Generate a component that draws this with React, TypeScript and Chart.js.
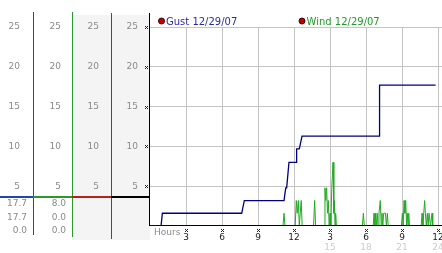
import React, { useEffect, useRef } from "react";
import { Chart, registerables } from "chart.js";

Chart.register(...registerables);

const gustLabel = "Gust 12/29/07";
const windLabel = "Wind 12/29/07";

// Gust (step-like), hours since midnight -> speed
const gustHours = [0, 0.92, 1.03, 7.64, 7.86, 11.17, 11.31, 11.39, 11.58, 12.17, 12.22, 12.44, 12.67, 19.1, 19.13, 23.8];
const gustValues = [0, 0, 1.6, 1.6, 3.2, 3.2, 4.8, 4.8, 8.0, 8.0, 9.7, 9.7, 11.3, 11.3, 17.7, 17.7];

// Wind (spiky)
const windHours = [
  0, 11.08, 11.17, 11.25,
  12.1, 12.19, 12.27, 12.36, 12.44, 12.52, 12.6, 12.68,
  13.63, 13.72, 13.8,
  14.5, 14.58, 14.65, 14.72, 14.79, 14.86, 14.93, 15.0, 15.07, 15.15, 15.25, 15.32, 15.36, 15.42, 15.47, 15.53,
  17.7, 17.78, 17.86,
  18.6, 18.67, 18.74, 18.81, 18.87, 18.94, 19.0, 19.08, 19.19, 19.27, 19.33, 19.4, 19.47, 19.62, 19.7, 19.78, 19.85,
  20.95, 21.03, 21.1, 21.17, 21.24, 21.31, 21.38, 21.44, 21.5, 21.56, 21.62,
  22.6, 22.67, 22.74, 22.81, 22.89, 22.95, 23.03, 23.11, 23.18, 23.25, 23.31, 23.38, 23.5, 23.56, 24,
];
const windValues = [
  0, 0, 1.6, 0,
  0, 3.2, 1.6, 3.2, 0, 1.6, 3.2, 0,
  0, 3.2, 0,
  0, 4.8, 3.2, 4.8, 1.6, 3.2, 0, 1.6, 0, 4.8, 8.0, 1.6, 3.2, 0, 1.6, 0,
  0, 1.6, 0,
  0, 1.6, 0, 1.6, 0, 1.6, 0, 1.6, 3.2, 0, 1.6, 0, 1.6, 1.6, 0, 1.6, 0,
  0, 1.6, 0, 3.2, 1.6, 3.2, 0, 1.6, 0, 1.6, 0,
  0, 1.6, 0, 1.6, 3.2, 1.6, 0, 1.6, 0, 1.6, 1.6, 0, 1.6, 0, 0,
];

const hourTicks = [3, 6, 9, 12, 15, 18, 21, 24];
const clockLabels = ["3", "6", "9", "12", "3", "6", "9", "12"];
const dayLabels = ["", "", "", "", "15", "18", "21", "24"];
const speedTicks = [5, 10, 15, 20, 25];

const FONT = "'DejaVu Sans', Verdana, sans-serif";
const BLUE = "#2343b0";
const GREEN = "#2a9a2a";
const RED = "#b82020";
const GRID = "#c4c4c4";
const LABEL = "#8a8a8a";

function mark(ctx: CanvasRenderingContext2D, cx: number, cy: number) {
  const x = Math.round(cx);
  const y = Math.round(cy);
  ctx.fillStyle = "#222";
  ctx.fillRect(x - 1, y - 1, 1, 1);
  ctx.fillRect(x + 1, y - 1, 1, 1);
  ctx.fillRect(x, y, 1, 1);
  ctx.fillRect(x - 1, y + 1, 1, 1);
  ctx.fillRect(x + 1, y + 1, 1, 1);
}

const decor = {
  id: "decor",
  beforeDraw(chart: any) {
    const { ctx, scales } = chart;
    ctx.save();
    ctx.fillStyle = "#f4f4f4";
    ctx.fillRect(scales.yRed.left, 15, scales.y.right - scales.yRed.left, 225);
    ctx.restore();
  },
  beforeDatasetDraw(chart: any, args: any) {
    if (args.index !== 0) return;
    const { ctx, chartArea, scales } = chart;
    const y0 = scales.y.getPixelForValue(0);
    ctx.save();
    ctx.fillStyle = "#000";
    ctx.fillRect(chartArea.left, Math.round(y0) - 1, chartArea.right - chartArea.left, 1);
    ctx.restore();
  },
  afterDraw(chart: any) {
    const { ctx, chartArea, scales } = chart;
    ctx.save();
    // panel vertical lines
    const vl = [
      { x: scales.yBlue.right, c: BLUE, t: 12, b: 235 },
      { x: scales.yGreen.right, c: GREEN, t: 12, b: 237 },
      { x: scales.yRed.right, c: RED, t: 13, b: 239 },
      { x: scales.y.right - 1, c: "#000", t: 13, b: chartArea.bottom },
    ];
    vl.forEach((l) => {
      ctx.fillStyle = l.c;
      ctx.fillRect(Math.round(l.x), l.t, 1, l.b - l.t);
    });
    // panel separator
    const segs = [
      { a: 0, b: scales.yBlue.right, c: BLUE },
      { a: scales.yBlue.right, b: scales.yGreen.right, c: GREEN },
      { a: scales.yGreen.right, b: scales.yRed.right, c: RED },
      { a: scales.yRed.right, b: scales.y.right, c: "#000" },
    ];
    segs.forEach((s) => {
      ctx.fillStyle = s.c;
      ctx.fillRect(s.a, 196, s.b - s.a, 2);
    });
    // stats: max, current, min
    const stats = (arr: number[]) => [Math.max(...arr), arr[arr.length - 1], Math.min(...arr)];
    ctx.font = `9px ${FONT}`;
    ctx.fillStyle = LABEL;
    ctx.textAlign = "right";
    ctx.textBaseline = "middle";
    const rows = [204, 218, 231];
    stats(gustValues).forEach((v, i) => ctx.fillText(v.toFixed(1), scales.yBlue.right - 6, rows[i]));
    stats(windValues).forEach((v, i) => ctx.fillText(v.toFixed(1), scales.yGreen.right - 6, rows[i]));
    // Hours label
    ctx.textAlign = "left";
    ctx.textBaseline = "alphabetic";
    ctx.fillStyle = LABEL;
    ctx.fillText("Hours", chartArea.left + 4, 234.5);
    // tick marks
    scales.x.ticks.forEach((t: any) => {
      if (t.value > 0) mark(ctx, scales.x.getPixelForValue(t.value), 230);
    });
    scales.y.ticks.forEach((t: any) => {
      if (t.value > 0) mark(ctx, chartArea.left - 4, scales.y.getPixelForValue(t.value));
    });
    // legend
    const items = [
      { dot: 161.5, text: 166, color: "#2a2aa8", label: chart.data.datasets[0].label },
      { dot: 302, text: 306.5, color: "#22992a", label: chart.data.datasets[1].label },
    ];
    ctx.font = `10px ${FONT}`;
    items.forEach((it) => {
      ctx.beginPath();
      ctx.arc(it.dot, 21, 3, 0, Math.PI * 2);
      ctx.fillStyle = "#c00000";
      ctx.fill();
      ctx.lineWidth = 1;
      ctx.strokeStyle = "#4a0000";
      ctx.stroke();
      ctx.fillStyle = it.color;
      ctx.textAlign = "left";
      ctx.textBaseline = "alphabetic";
      ctx.fillText(it.label, it.text, 24.5);
    });
    ctx.restore();
  },
};

function yAxis(weight: number, width: number, padding: number, grid: boolean) {
  return {
    type: "linear" as const,
    axis: "y" as const,
    position: "left" as const,
    min: 0,
    max: 25,
    weight,
    ticks: {
      stepSize: 5,
      padding,
      color: LABEL,
      font: { size: 9, family: FONT },
      callback: (v: any) => (speedTicks.includes(Number(v)) ? String(v) : ""),
    },
    grid: grid
      ? {
          display: true,
          drawTicks: false,
          lineWidth: 1,
          color: (c: any) => (c.tick && c.tick.value === 0 ? "rgba(0,0,0,0)" : GRID),
        }
      : { display: false, drawTicks: false },
    border: { display: false },
    afterFit: (s: any) => {
      s.width = width;
    },
  };
}

export default function App() {
  const ref = useRef<HTMLCanvasElement | null>(null);
  useEffect(() => {
    if (!ref.current) return;
    const chart = new Chart(ref.current, {
      type: "line",
      data: {
        datasets: [
          {
            label: gustLabel,
            data: gustHours.map((h, i) => ({ x: h, y: gustValues[i] })),
            borderColor: "#000080",
            borderWidth: 1.3,
            pointRadius: 0,
            tension: 0,
            xAxisID: "x",
            yAxisID: "y",
            order: 1,
          },
          {
            label: windLabel,
            data: windHours.map((h, i) => ({ x: h, y: windValues[i] })),
            borderColor: "#22aa22",
            borderWidth: 1,
            pointRadius: 0,
            tension: 0,
            xAxisID: "x",
            yAxisID: "y",
            order: 2,
          },
        ],
      },
      options: {
        animation: false,
        responsive: false,
        maintainAspectRatio: false,
        layout: { padding: { top: 27, right: 0, bottom: 0, left: 0 } },
        plugins: { legend: { display: false }, tooltip: { enabled: false } },
        scales: {
          x: {
            type: "linear",
            position: "bottom",
            min: 0,
            max: 24.333,
            weight: 0,
            ticks: {
              stepSize: 3,
              includeBounds: false,
              autoSkip: false,
              maxRotation: 0,
              padding: 6,
              color: "#222",
              font: { size: 9, family: FONT },
              callback: (v: any) => {
                const i = hourTicks.indexOf(Number(v));
                return i >= 0 ? clockLabels[i] : "";
              },
            },
            grid: {
              drawTicks: false,
              lineWidth: 1,
              color: (c: any) => (c.tick && c.tick.value === 0 ? "rgba(0,0,0,0)" : GRID),
            },
            border: { display: false },
            afterFit: (s: any) => {
              s.height = 14;
              s.paddingLeft = 0;
              s.paddingRight = 0;
            },
          } as any,
          x2: {
            type: "linear",
            axis: "x",
            position: "bottom",
            min: 0,
            max: 24.333,
            weight: 1,
            ticks: {
              stepSize: 3,
              includeBounds: false,
              autoSkip: false,
              maxRotation: 0,
              padding: 2,
              color: "#cccccc",
              font: { size: 9, family: FONT },
              callback: (v: any) => {
                const i = hourTicks.indexOf(Number(v));
                return i >= 0 ? dayLabels[i] : "";
              },
            },
            grid: { display: false, drawTicks: false },
            border: { display: false },
            afterFit: (s: any) => {
              s.height = 13;
              s.paddingLeft = 0;
              s.paddingRight = 0;
            },
          } as any,
          y: yAxis(0, 39, 12, true) as any,
          yRed: yAxis(1, 39, 12, false) as any,
          yGreen: yAxis(2, 39, 11, false) as any,
          yBlue: yAxis(3, 33, 13, false) as any,
        },
      },
      plugins: [decor as any],
    });
    return () => chart.destroy();
  }, []);
  return (
    <div style={{ position: "absolute", left: 0, top: 0, width: 442, height: 253, background: "#fff" }}>
      <canvas ref={ref} width={442} height={253} style={{ display: "block", width: 442, height: 253 }} />
    </div>
  );
}
